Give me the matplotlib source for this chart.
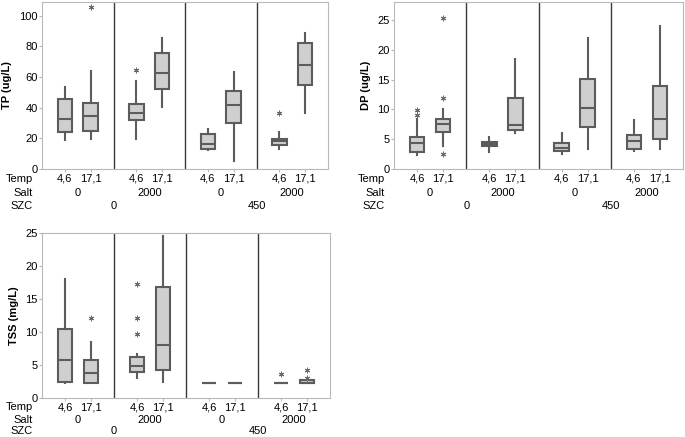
#!/usr/bin/env python3

import matplotlib
matplotlib.use("Agg")
import matplotlib.pyplot as plt

plt.rcParams["font.family"] = ["Liberation Sans", "DejaVu Sans"]

# factor levels (8 boxes: SZC x Salt x Temp)
temp_labels = ["4,6", "17,1"] * 4
salt_labels = ["0", "2000", "0", "2000"]
szc_labels = ["0", "450"]

# TP (ug/L)
tp_low = [19.0, 19.5, 19.9, 40.7, 12.1, 5.4, 13.0, 36.4]
tp_q1 = [24.2, 24.5, 32.0, 52.2, 13.2, 30.3, 15.6, 54.8]
tp_med = [32.7, 34.4, 36.6, 62.6, 16.2, 41.6, 18.2, 67.7]
tp_q3 = [45.9, 43.3, 42.6, 75.8, 22.9, 51.1, 19.9, 82.5]
tp_high = [53.7, 63.9, 57.4, 85.7, 26.0, 63.0, 24.0, 88.7]
tp_out = [[], [106.0], [64.3], [], [], [], [36.4], []]

# DP (ug/L)
dp_low = [2.3, 3.9, 2.9, 6.0, 2.5, 3.3, 3.1, 3.3]
dp_q1 = [2.9, 6.2, 3.9, 6.5, 3.0, 7.0, 3.3, 5.1]
dp_med = [4.4, 7.6, 4.2, 7.4, 3.6, 10.3, 4.7, 8.4]
dp_q3 = [5.3, 8.4, 4.5, 11.9, 4.3, 15.1, 5.7, 14.0]
dp_high = [8.3, 10.0, 5.4, 18.5, 6.1, 21.9, 8.2, 24.0]
dp_out = [[9.0, 9.9], [25.4, 11.9, 2.5], [], [], [], [], [], []]

# TSS (mg/L)
tss_low = [2.3, 2.2, 3.0, 2.5, 2.2, 2.2, 2.2, 2.2]
tss_q1 = [2.5, 2.2, 3.9, 4.3, 2.2, 2.2, 2.2, 2.2]
tss_med = [5.7, 3.8, 4.8, 8.0, 2.2, 2.2, 2.2, 2.3]
tss_q3 = [10.5, 5.8, 6.2, 16.8, 2.2, 2.2, 2.2, 2.7]
tss_high = [18.1, 8.5, 6.7, 24.5, 2.2, 2.2, 2.2, 2.7]
tss_out = [[], [12.1], [17.2, 12.1, 9.7], [], [], [], [3.65], [4.2, 3.0]]

EDGE = "#5c5c5c"
FILL = "#cfcfcf"
SPINE = "#b8b8b8"
FS = 8


def make_stats(low, q1, med, q3, high, out):
    return [
        dict(whislo=a, q1=b, med=c, q3=d, whishi=e, fliers=f)
        for a, b, c, d, e, f in zip(low, q1, med, q3, high, out)
    ]


def draw_panel(ax, stats, ylabel, yticks, ylim, rows_dy=(-10, -24, -37)):
    pos = []
    for g in range(4):
        pos += [g + 0.5 - 0.18, g + 0.5 + 0.18]
    ax.bxp(
        stats,
        positions=pos,
        widths=0.2,
        patch_artist=True,
        showcaps=False,
        boxprops=dict(facecolor=FILL, edgecolor=EDGE, linewidth=1.5),
        whiskerprops=dict(color=EDGE, linewidth=1.5),
        medianprops=dict(color=EDGE, linewidth=1.5),
        flierprops=dict(marker=(6, 2, 0), markersize=4, markeredgewidth=0.7,
                        markeredgecolor="#6a6a6a", linestyle="none"),
    )
    for x in [1, 2, 3]:
        ax.axvline(x, color="#3a3a3a", linewidth=1)
    ax.set_xlim(0, 4)
    ax.set_ylim(*ylim)
    ax.set_yticks(yticks)
    ax.set_xticks(pos)
    ax.set_xticklabels(temp_labels)
    ax.tick_params(labelsize=FS, length=2, color=SPINE, pad=1)
    for s in ax.spines.values():
        s.set_color(SPINE)
    ax.set_ylabel(ylabel, fontsize=FS, fontweight="bold", labelpad=5)

    tr = ax.get_xaxis_transform()
    for i, lab in enumerate(salt_labels):
        ax.annotate(lab, (i + 0.5, 0), xycoords=tr, xytext=(0, rows_dy[1]),
                    textcoords="offset pixels", ha="center", va="center",
                    fontsize=FS)
    for i, lab in enumerate(szc_labels):
        ax.annotate(lab, (2 * i + 1, 0), xycoords=tr, xytext=(0, rows_dy[2]),
                    textcoords="offset pixels", ha="center", va="center",
                    fontsize=FS)
    for lab, dy in zip(["Temp", "Salt", "SZC"], rows_dy):
        ax.annotate(lab, (0, 0), xycoords="axes fraction", xytext=(-9, dy),
                    textcoords="offset pixels", ha="right", va="center",
                    fontsize=FS)


def main():
    fig = plt.figure(figsize=(6.85, 4.37), dpi=100)
    ax1 = fig.add_axes([42 / 685, 1 - 169 / 437, 286 / 685, 167 / 437])
    ax2 = fig.add_axes([394 / 685, 1 - 169 / 437, 289 / 685, 167 / 437])
    ax3 = fig.add_axes([42 / 685, 1 - 398 / 437, 288 / 685, 165 / 437])

    draw_panel(ax1, make_stats(tp_low, tp_q1, tp_med, tp_q3, tp_high, tp_out),
               "TP (ug/L)", [0, 20, 40, 60, 80, 100], (0, 109))
    draw_panel(ax2, make_stats(dp_low, dp_q1, dp_med, dp_q3, dp_high, dp_out),
               "DP (ug/L)", [0, 5, 10, 15, 20, 25], (0, 28))
    draw_panel(ax3, make_stats(tss_low, tss_q1, tss_med, tss_q3, tss_high, tss_out),
               "TSS (mg/L)", [0, 5, 10, 15, 20, 25], (0, 25),
               rows_dy=(-9, -22, -33))

    fig.savefig("out.png", dpi=100)


if __name__ == "__main__":
    main()
